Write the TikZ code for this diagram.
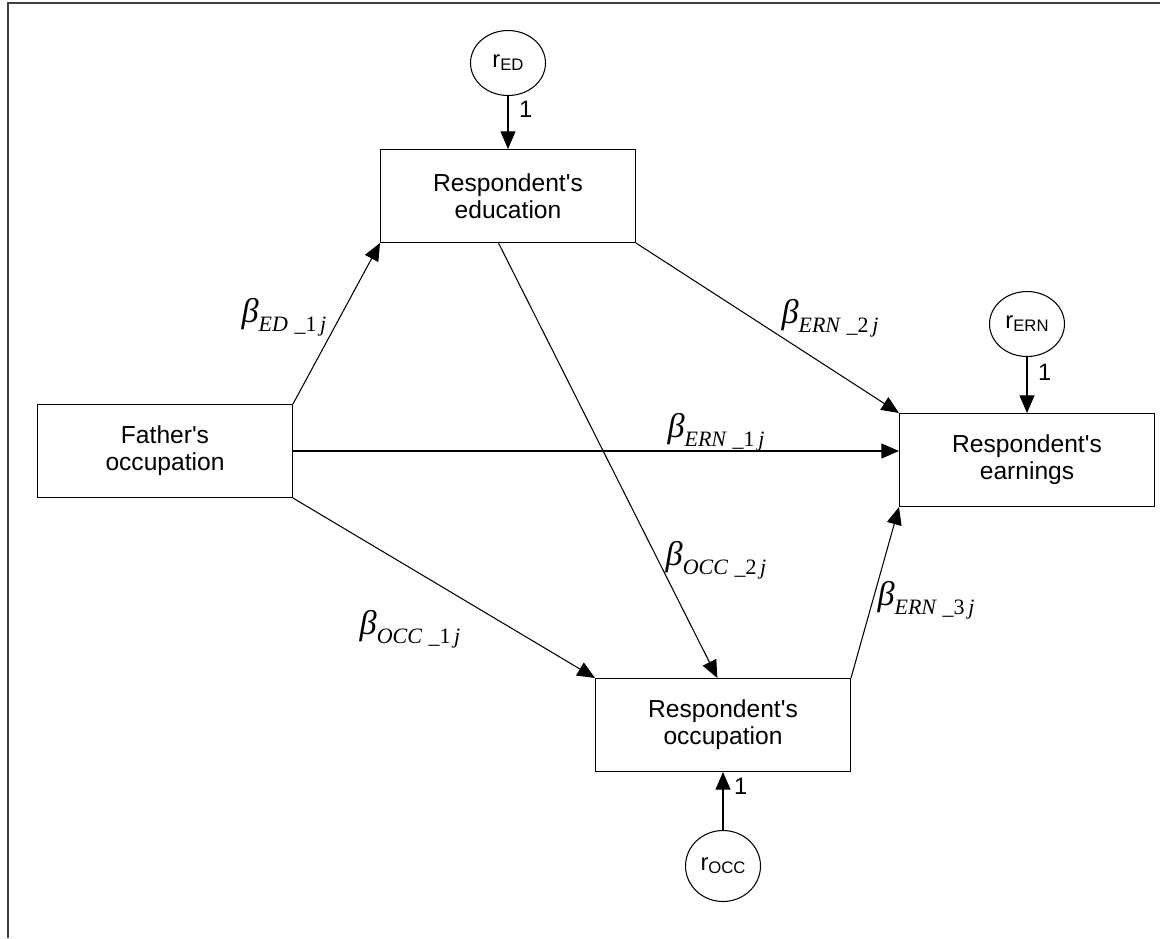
\documentclass[tikz,border=0pt]{standalone}
\usepackage{fontspec}
\setmainfont{Liberation Sans}[Ligatures=TeXOff]
\newfontfamily\serif{Liberation Serif}
\usetikzlibrary{arrows.meta,calc,shapes.geometric}
\newcommand{\coef}[2]{{\serif\itshape\fontsize{19.5}{20}\selectfont β\raisebox{-0.55ex}{\fontsize{12.5}{13}\selectfont #1\hspace{0.3em}\_\upshape#2\,\itshape j}}}
\newcommand{\rsub}[1]{r\raisebox{-0.25ex}{\fontsize{9.5}{10}\selectfont #1}}

\begin{document}
\begin{tikzpicture}[x=0.02cm,y=-0.02cm,>={Triangle[length=10pt,width=8.5pt]},
  box/.style={draw,line width=0.6pt,minimum width=5.1cm,minimum height=1.86cm,align=center,font=\fontsize{14}{15.5}\selectfont},
  resid/.style={draw,ellipse,line width=0.6pt,minimum width=1.5cm,minimum height=1.3cm,inner sep=0pt,font=\fontsize{13.5}{16}\selectfont},
  link/.style={->,line width=0.6pt},
  one/.style={font=\fontsize{13.5}{16}\selectfont,inner sep=6pt}]
\useasboundingbox (0,0) rectangle (1160,938);
\draw[line width=1.3pt,black!75] (8,938) -- (8,3) -- (1160,3);
\node[box] (edu) at (508,196) {Respondent's\\education};
\node[box] (father) at (165,451) {Father's\\occupation};
\node[box] (earn) at (1027,460) {Respondent's\\earnings};
\node[box] (occ) at (723,725) {Respondent's\\occupation};
\node[resid] (rED) at (508,63) {\rsub{ED}};
\node[resid] (rERN) at (1027,324) {\rsub{ERN}};
\node[resid,minimum height=1.42cm] (rOCC) at (723,866) {\rsub{OCC}};
\draw[link] (rED) -- (edu) node[one,pos=0.25,right] {1};
\draw[link] (rERN) -- (earn) node[one,pos=0.27,right] {1};
\draw[link] (rOCC) -- (occ) node[one,pos=0.75,right] {1};
\draw[link] (father.north east) -- (edu.south west);
\draw[link] (father.east) -- (father.east -| earn.west);
\draw[link] (father.south east) -- (occ.north west);
\draw[link] (edu.south east) -- (earn.north west);
\draw[link] ($(edu.south west)!0.463!(edu.south east)$) -- ($(occ.north west)!0.478!(occ.north east)$);
\draw[link] (occ.north east) -- (earn.south west);
\node (bED1) at (284,317) {\coef{ED}{1}};
\node (bERN1) at (716,432) {\coef{ERN}{1}};
\node (bERN2) at (830,318) {\coef{ERN}{2}};
\node (bOCC1) at (410,629) {\coef{OCC}{1}};
\node (bOCC2) at (716,560) {\coef{OCC}{2}};
\node (bERN3) at (926,600) {\coef{ERN}{3}};
\end{tikzpicture}
\end{document}
